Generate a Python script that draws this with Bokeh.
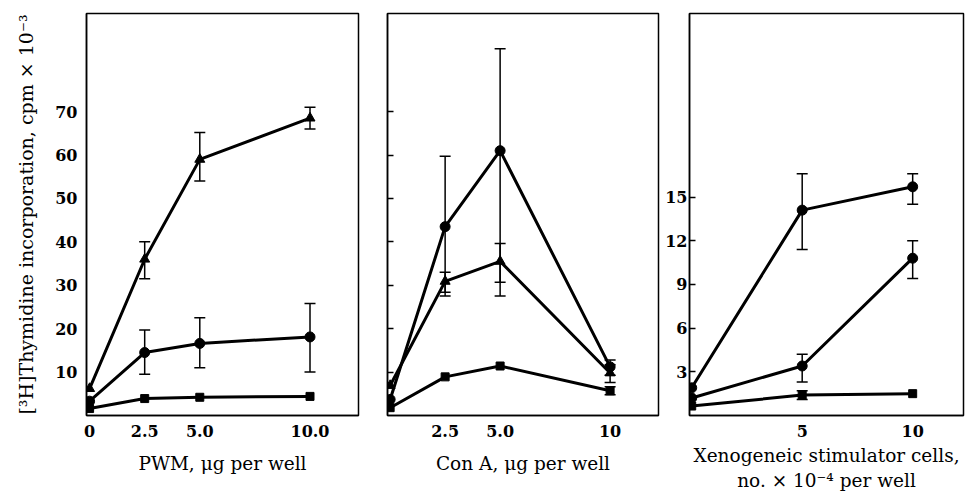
from bokeh.plotting import figure
from bokeh.layouts import row
from bokeh.models import ColumnDataSource, Whisker, TeeHead, FixedTicker, Range1d
from bokeh.embed import file_html
from bokeh.resources import INLINE

# ---------------- data ----------------
# Panel 1: PWM
pwm_x = [0, 2.5, 5.0, 10.0]
pwm_tri = [6.2, 36.0, 59.0, 68.5]
pwm_tri_lo = [None, 31.5, 54.0, 66.0]
pwm_tri_hi = [None, 40.0, 65.2, 71.0]
pwm_circ = [3.3, 14.5, 16.6, 18.1]
pwm_circ_lo = [None, 9.5, 11.0, 10.0]
pwm_circ_hi = [None, 19.7, 22.5, 25.8]
pwm_sq = [1.6, 3.9, 4.2, 4.4]
pwm_sq_lo = [None, None, None, None]
pwm_sq_hi = [None, None, None, None]
pwm_ticks = [0, 2.5, 5.0, 10.0]
pwm_tick_labels = ["0", "2.5", "5.0", "10.0"]

# Panel 2: Con A
cona_x = [0, 2.5, 5.0, 10.0]
cona_circ = [3.7, 43.5, 61.0, 11.2]
cona_circ_lo = [None, 27.5, 30.7, 9.3]
cona_circ_hi = [None, 59.7, 84.5, 12.8]
cona_tri = [6.9, 30.9, 35.5, 9.8]
cona_tri_lo = [None, 28.4, 27.5, 7.6]
cona_tri_hi = [None, 33.0, 39.6, 11.7]
cona_sq = [1.8, 8.9, 11.4, 5.7]
cona_sq_lo = [None, None, None, 4.8]
cona_sq_hi = [None, None, None, 6.6]
cona_ticks = [2.5, 5.0, 10.0]
cona_tick_labels = ["2.5", "5.0", "10"]

# shared y ticks for panels 1 and 2
y_ticks_12 = [10, 20, 30, 40, 50, 60, 70]

# Panel 3: xenogeneic stimulator cells
xen_x = [0, 5, 10]
xen_circA = [1.9, 14.1, 15.7]
xen_circA_lo = [None, 11.4, 14.5]
xen_circA_hi = [None, 16.6, 16.6]
xen_circB = [1.2, 3.4, 10.8]
xen_circB_lo = [None, 2.3, 9.4]
xen_circB_hi = [None, 4.2, 12.0]
xen_sq = [0.65, 1.4, 1.5]
xen_sq_lo = [None, 1.1, None]
xen_sq_hi = [None, 1.7, None]
xen_ticks = [5, 10]
xen_tick_labels = ["5", "10"]
y_ticks_3 = [3, 6, 9, 12, 15]

Y_TITLE = "[\u00b3H]Thymidine incorporation, cpm \u00d7 10\u207b\u00b3"
X1_TITLE = "PWM, \u03bcg per well"
X2_TITLE = "Con A, \u03bcg per well"
X3_TITLE = "Xenogeneic stimulator cells,\nno. \u00d7 10\u207b\u2074 per well"

SERIF = "DejaVu Serif"
H = 499


def make_fig(width, mbl, mbr, xr, yr):
    p = figure(width=width, height=H, x_range=Range1d(*xr), y_range=Range1d(*yr),
               output_backend="svg", toolbar_location=None,
               min_border_left=mbl, min_border_right=mbr,
               min_border_top=13, min_border_bottom=84)
    p.grid.visible = False
    p.outline_line_color = "black"
    p.outline_line_width = 1.5
    p.outline_line_alpha = 1.0
    p.background_fill_color = "white"
    p.border_fill_color = "white"
    for ax in (p.xaxis[0], p.yaxis[0]):
        ax.axis_line_width = 1.5
        ax.axis_line_color = "black"
        ax.major_tick_line_width = 1.5
        ax.major_tick_line_color = "black"
        ax.minor_tick_line_color = None
        ax.major_tick_in = 0
        ax.major_tick_out = 0
        ax.major_label_text_font = SERIF
        ax.major_label_text_font_style = "bold"
        ax.major_label_text_font_size = "16px"
        ax.major_label_text_color = "black"
        ax.axis_label_text_font = SERIF
        ax.axis_label_text_font_style = "normal"
        ax.axis_label_text_font_size = "18.5px"
        ax.axis_label_text_color = "black"
    p.xaxis[0].major_label_standoff = 9
    p.xaxis[0].axis_label_standoff = 13
    return p


def add_series(p, xs, ys, lo, hi, marker, size):
    p.line(xs, ys, line_color="black", line_width=3)
    p.scatter(xs, ys, marker=marker, size=size, fill_color="black", line_color="black")
    ex, el, eh = [], [], []
    for x, l, h in zip(xs, lo, hi):
        if l is not None and h is not None:
            ex.append(x)
            el.append(l)
            eh.append(h)
    if ex:
        src = ColumnDataSource(dict(base=ex, lower=el, upper=eh))
        w = Whisker(source=src, base="base", lower="lower", upper="upper",
                    line_width=1.5, line_color="black",
                    upper_head=TeeHead(size=11, line_width=1.5, line_color="black"),
                    lower_head=TeeHead(size=11, line_width=1.5, line_color="black"))
        p.add_layout(w)


# Panel 1
p1 = make_fig(372, 86, 14, (-0.14, 12.2), (0, 92.6))
p1.xaxis[0].ticker = FixedTicker(ticks=pwm_ticks)
p1.xaxis[0].major_label_overrides = {t: s for t, s in zip(pwm_ticks, pwm_tick_labels)}
p1.yaxis[0].ticker = FixedTicker(ticks=y_ticks_12)
p1.yaxis[0].major_label_standoff = 9
p1.yaxis[0].axis_label = Y_TITLE
p1.yaxis[0].axis_label_text_font_size = "19px"
p1.yaxis[0].axis_label_standoff = 15
p1.xaxis[0].axis_label = X1_TITLE
add_series(p1, pwm_x, pwm_sq, pwm_sq_lo, pwm_sq_hi, "square", 8)
add_series(p1, pwm_x, pwm_circ, pwm_circ_lo, pwm_circ_hi, "circle", 10)
add_series(p1, pwm_x, pwm_tri, pwm_tri_lo, pwm_tri_hi, "triangle", 10)

# Panel 2
p2 = make_fig(290, 15, 4, (-0.12, 12.2), (0, 92.6))
p2.xaxis[0].ticker = FixedTicker(ticks=cona_ticks)
p2.xaxis[0].major_label_overrides = {t: s for t, s in zip(cona_ticks, cona_tick_labels)}
p2.yaxis[0].ticker = FixedTicker(ticks=y_ticks_12)
p2.yaxis[0].major_label_overrides = {t: "" for t in y_ticks_12}
p2.yaxis[0].major_label_standoff = 0
p2.yaxis[0].major_tick_in = 6
p2.xaxis[0].axis_label = X2_TITLE
add_series(p2, cona_x, cona_sq, cona_sq_lo, cona_sq_hi, "square", 8)
add_series(p2, cona_x, cona_tri, cona_tri_lo, cona_tri_hi, "triangle", 10)
add_series(p2, cona_x, cona_circ, cona_circ_lo, cona_circ_hi, "circle", 10)

# Panel 3
p3 = make_fig(304, 26, 3, (-0.1, 12.3), (0, 27.6))
p3.xaxis[0].ticker = FixedTicker(ticks=xen_ticks)
p3.xaxis[0].major_label_overrides = {t: s for t, s in zip(xen_ticks, xen_tick_labels)}
p3.yaxis[0].ticker = FixedTicker(ticks=y_ticks_3)
p3.yaxis[0].major_tick_in = 6
p3.yaxis[0].major_label_standoff = 2
p3.xaxis[0].axis_label = X3_TITLE
p3.xaxis[0].axis_label_standoff = 5
add_series(p3, xen_x, xen_sq, xen_sq_lo, xen_sq_hi, "square", 8)
add_series(p3, xen_x, xen_circB, xen_circB_lo, xen_circB_hi, "circle", 10)
add_series(p3, xen_x, xen_circA, xen_circA_lo, xen_circA_hi, "circle", 10)

layout = row(p1, p2, p3)
open("out.html", "w").write(file_html(layout, INLINE))
